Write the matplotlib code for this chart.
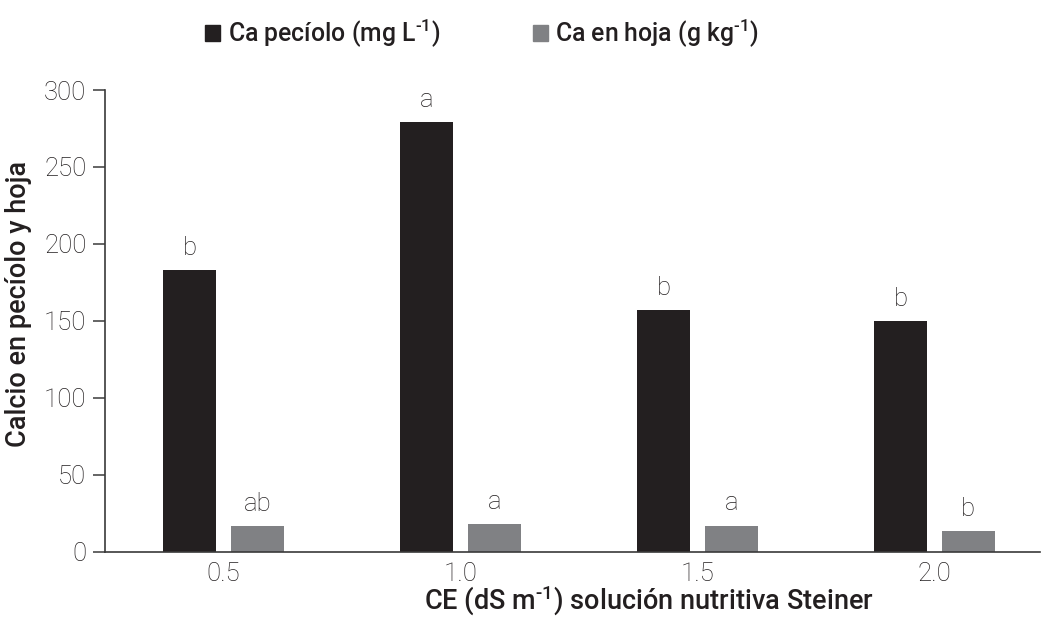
import matplotlib
matplotlib.use("Agg")
import matplotlib.pyplot as plt
from matplotlib.patches import Patch
import numpy as np

# ---- data ----
categories = ["0.5", "1.0", "1.5", "2.0"]
ca_peciolo = [183, 279, 157, 150]      # mg L-1
ca_hoja = [16.5, 18, 17, 13.5]         # g kg-1
letters_peciolo = ["b", "a", "b", "b"]
letters_hoja = ["ab", "a", "a", "b"]
yticks = [0, 50, 100, 150, 200, 250, 300]
label_peciolo = "Ca pecíolo (mg L$^{\\mathregular{\u20101}}$)"
label_hoja = "Ca en hoja (g kg$^{\\mathregular{\u20101}}$)"
xlabel = "CE (dS m$^{\\mathregular{\u20101}}$) solución nutritiva Steiner"
ylabel = "Calcio en pecíolo y hoja"

BLACK = "#231f20"
GRAY = "#808184"
TXT = "#231f20"
AXC = "#3a3a3a"
FAM = ["Roboto", "DejaVu Sans"]

plt.rcParams["font.family"] = FAM
plt.rcParams["mathtext.fontset"] = "custom"
plt.rcParams["mathtext.rm"] = "Roboto"

fig = plt.figure(figsize=(10.41, 6.18), dpi=100)
ax = fig.add_axes([105 / 1041, 1 - 551.7 / 618, 935 / 1041, (551.7 - 90) / 618])

x = np.arange(len(categories))
off = 0.143
w = 0.222
b1 = ax.bar(x - off, ca_peciolo, width=w, color=BLACK)
b2 = ax.bar(x + off, ca_hoja, width=w, color=GRAY)

for bars, letters in ((b1, letters_peciolo), (b2, letters_hoja)):
    for rect, lab in zip(bars, letters):
        ax.annotate(lab, (rect.get_x() + rect.get_width() / 2, rect.get_height()),
                    xytext=(0, 11), textcoords="offset points", ha="center", va="baseline",
                    fontsize=18.5, fontweight="light", color=TXT, family=FAM)

ax.set_xlim(-0.5, 3.445)
ax.set_ylim(0, 300)
ax.set_yticks(yticks)
ax.set_xticks(x)
ax.set_xticklabels(categories)

for s in ["top", "right"]:
    ax.spines[s].set_visible(False)
for s in ["left", "bottom"]:
    ax.spines[s].set_color(AXC)
    ax.spines[s].set_linewidth(1.2)

ax.tick_params(axis="y", length=8.4, width=1.1, color=AXC, pad=5, labelsize=18.5, labelcolor=TXT)
ax.tick_params(axis="x", length=0, pad=7.5, labelsize=18.5, labelcolor=TXT)
for lab in ax.get_xticklabels() + ax.get_yticklabels():
    lab.set_fontweight("light")

ax.set_ylabel(ylabel, fontsize=19.5, fontweight="medium", color=TXT)
ax.yaxis.set_label_coords(-0.078, 0.537)
ax.set_xlabel(xlabel, fontsize=19.5, fontweight="medium", color=TXT, va="baseline")
ax.xaxis.set_label_coords(0.582, -0.1265)

handles = [Patch(color=BLACK, label=label_peciolo),
           Patch(color=GRAY, label=label_hoja)]
leg = fig.legend(handles=handles, loc="center", bbox_to_anchor=(0.4633, 1 - 33 / 618),
                 ncol=2, frameon=False, handlelength=0.6, handleheight=0.6,
                 handletextpad=0.3, columnspacing=3.75,
                 prop={"family": FAM, "weight": "medium", "size": 17.8})
for t in leg.get_texts():
    t.set_color(TXT)

fig.savefig("out.png", dpi=100)
